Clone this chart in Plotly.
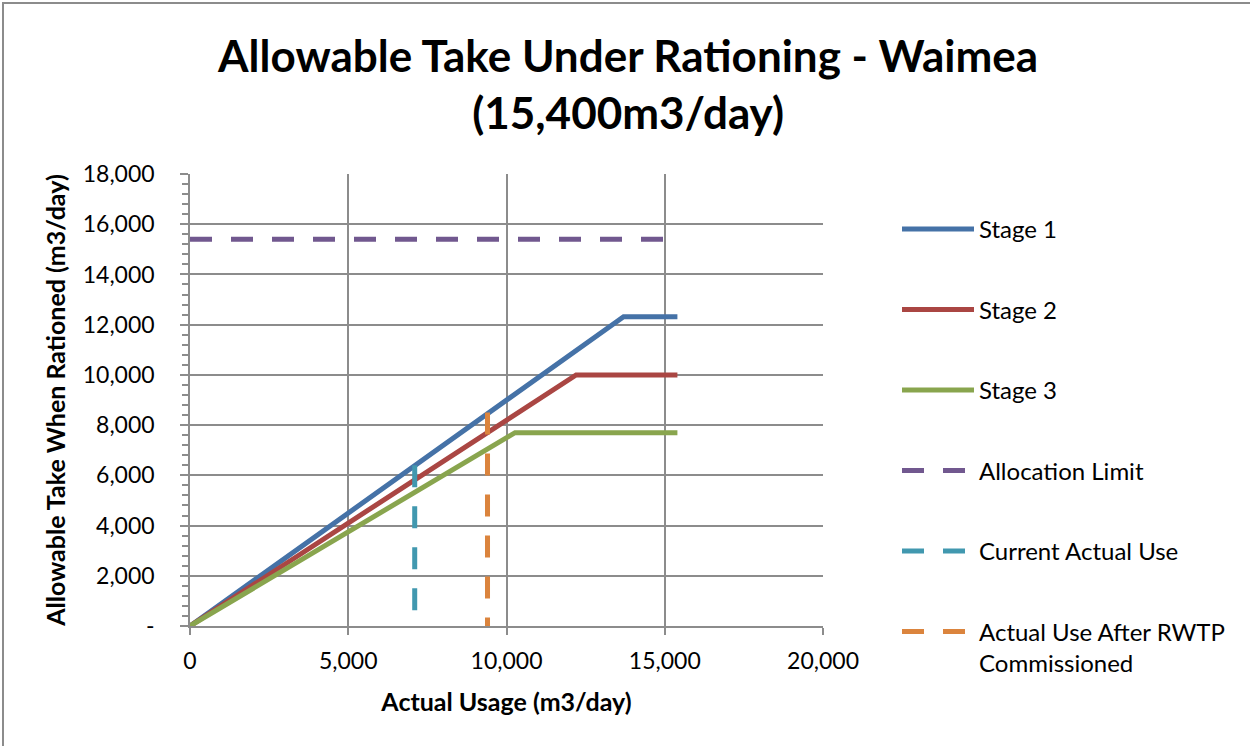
import plotly.graph_objects as go

# Breakpoints of each rationing stage (actual usage -> allowable take), m3/day
stage1_usage = [0, 13700, 15400]
stage1_take = [0, 12320, 12320]
stage2_usage = [0, 12200, 15400]
stage2_take = [0, 10000, 10000]
stage3_usage = [0, 10270, 15400]
stage3_take = [0, 7700, 7700]

# Consent allocation limit
alloc_usage = [0, 15400]
alloc_take = [15400, 15400]

# Current use and use after RWTP commissioning (vertical markers)
current_usage = [7100, 7100]
current_take = [6400, 0]
rwtp_usage = [9400, 9400]
rwtp_take = [8500, 0]

x_ticks = [0, 5000, 10000, 15000, 20000]
x_tick_text = ["0", "5,000", "10,000", "15,000", "20,000"]
y_ticks = [0, 2000, 4000, 6000, 8000, 10000, 12000, 14000, 16000, 18000]
y_tick_text = ["-", "2,000", "4,000", "6,000", "8,000", "10,000",
               "12,000", "14,000", "16,000", "18,000"]

FONT = "Lato"
GRID = "#8c8c8c"
W, H = 1250, 746
L, R, T, B = 190, 427, 174, 120

series = [
    ("Stage 1", stage1_usage, stage1_take, "#4572A7", "solid"),
    ("Stage 2", stage2_usage, stage2_take, "#AA4643", "solid"),
    ("Stage 3", stage3_usage, stage3_take, "#89A54E", "solid"),
    ("Allocation Limit", alloc_usage, alloc_take, "#71588F", "22px,19px"),
    ("Current Actual Use", current_usage, current_take, "#4198AF", "22px,19px"),
    ("Actual Use After RWTP<br>Commissioned", rwtp_usage, rwtp_take, "#DB843D", "22px,19px"),
]

fig = go.Figure()
for i, (name, xs, ys, color, dash) in enumerate(series):
    fig.add_trace(go.Scatter(
        x=xs, y=ys, mode="lines", name=name, legendgroup=f"g{i}",
        line=dict(color=color, width=5, dash=dash),
        hoverinfo="skip",
    ))

# helpers for pixel -> paper conversion of decorations
pw, ph = W - L - R, H - T - B
def px_x(p):
    return (p - L) / pw
def px_y(p):
    return (H - B - p) / ph

fig.update_layout(
    width=W, height=H,
    margin=dict(l=L, r=R, t=T, b=B),
    paper_bgcolor="white", plot_bgcolor="white",
    font=dict(family=FONT, size=23, color="black"),
    title=dict(
        text="<b>Allowable Take Under Rationing - Waimea<br>(15,400m3/day)</b>",
        font=dict(family=FONT, size=44, color="black"),
        x=0.5025, xanchor="center", xref="container",
        y=1 - 72 / H, yanchor="middle", yref="container",
    ),
    xaxis=dict(
        range=[0, 20000], tickvals=x_ticks, ticktext=x_tick_text,
        showgrid=True, gridcolor=GRID, gridwidth=1.5,
        showline=True, linecolor=GRID, linewidth=1.5,
        ticks="outside", ticklen=7, tickcolor=GRID, tickwidth=1.5,
        ticklabelstandoff=7, zeroline=False,
        title=dict(text="<b>Actual Usage (m3/day)</b>", font=dict(size=25), standoff=20),
    ),
    yaxis=dict(
        range=[0, 18000], tickvals=y_ticks, ticktext=y_tick_text,
        showgrid=True, gridcolor=GRID, gridwidth=1.5,
        showline=True, linecolor=GRID, linewidth=1.5,
        ticks="outside", ticklen=8, tickcolor=GRID, tickwidth=1.5,
        minor=dict(dtick=400, ticks="outside", ticklen=6, tickcolor=GRID,
                   tickwidth=1.5, showgrid=False),
        ticklabelstandoff=21, zeroline=False,
        title=dict(text="<b>Allowable Take When Rationed (m3/day)</b>",
                   font=dict(size=25), standoff=10),
    ),
    legend=dict(
        x=px_x(897), xanchor="left", y=px_y(207), yanchor="top",
        itemwidth=72, tracegroupgap=46.3, valign="top", maxheight=640,
        font=dict(family=FONT, size=24, color="black"),
        bgcolor="rgba(0,0,0,0)", borderwidth=0,
    ),
    showlegend=True,
)

# outer chart frame
fig.add_shape(type="rect", xref="paper", yref="paper",
              x0=px_x(3), x1=px_x(1262), y0=px_y(3), y1=px_y(760),
              line=dict(color="#8c8c8c", width=2), layer="below")

fig.write_html("out.html")
